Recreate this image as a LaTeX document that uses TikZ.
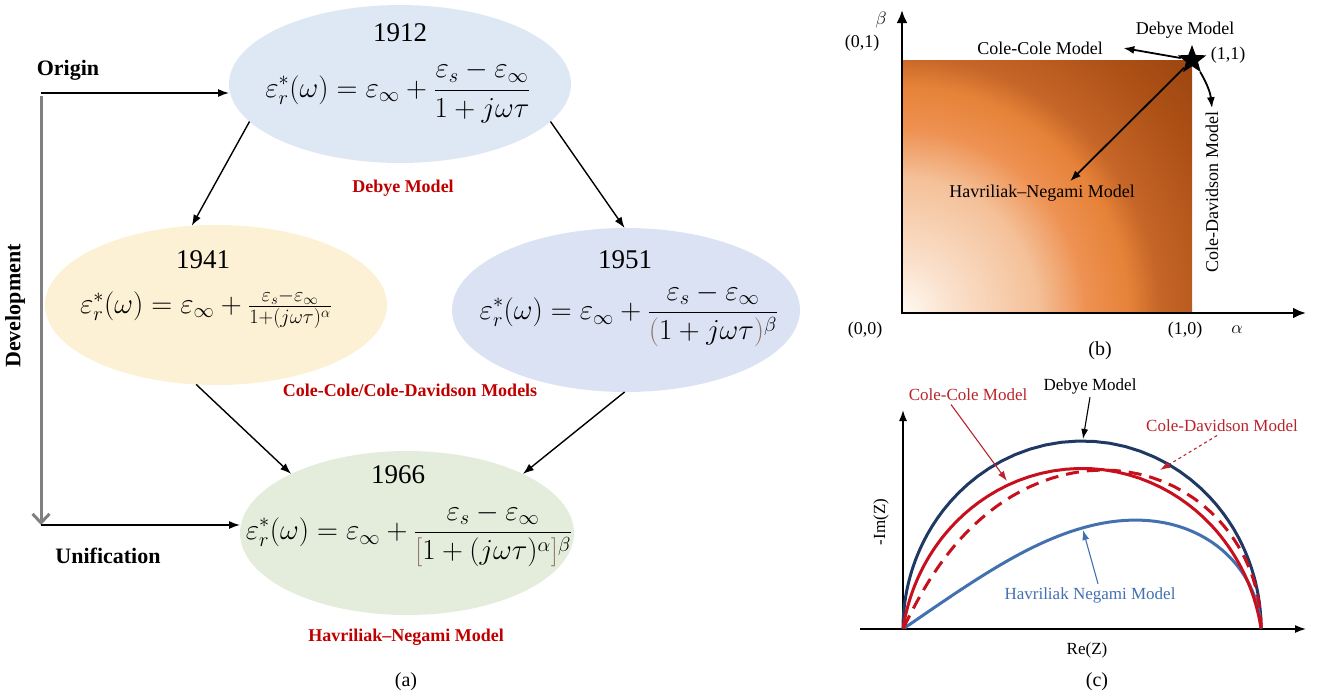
\documentclass[tikz,border=0pt]{standalone}
\usepackage{fix-cm}
\usepackage{amsmath}
\usepackage{fontspec}
\setmainfont{Liberation Serif}
\usepackage{xcolor}
\usetikzlibrary{arrows.meta,shapes.geometric,positioning}

\definecolor{debyefill}{RGB}{222,232,245}
\definecolor{colefill}{RGB}{252,241,212}
\definecolor{davfill}{RGB}{219,226,243}
\definecolor{hnfill}{RGB}{228,237,220}
\definecolor{modelred}{RGB}{192,0,0}
\definecolor{parbrown}{RGB}{140,115,100}
\definecolor{navyline}{RGB}{31,56,100}
\definecolor{hnblue}{RGB}{66,112,176}
\definecolor{curvered}{RGB}{200,16,28}
\definecolor{labelred}{RGB}{185,36,44}
\definecolor{sh0}{RGB}{255,249,242}
\definecolor{sh1}{RGB}{250,226,206}
\definecolor{sh2}{RGB}{244,192,152}
\definecolor{sh3}{RGB}{238,145,82}
\definecolor{sh4}{RGB}{230,130,56}
\definecolor{sh5}{RGB}{198,102,40}
\definecolor{sh6}{RGB}{172,80,22}
\definecolor{sh7}{RGB}{152,66,14}

\pgfdeclareradialshading{ochre}{\pgfpoint{0bp}{0bp}}{%
  color(0bp)=(sh0); color(3bp)=(sh1); color(8.5bp)=(sh2); color(11.5bp)=(sh3);
  color(14.2bp)=(sh4); color(16bp)=(sh5); color(20.5bp)=(sh6); color(25bp)=(sh7); color(50bp)=(sh7)}

% impedance arc 1/(1+(j w t)^a)^b, #1 = a, #2 = b
\newcommand{\relaxcurve}[3]{%
  \draw[#3] plot[domain=-6:14, samples=220, variable=\t]
  ({358*exp(-#2*(#1*\t+ln(veclen(exp(-#1*\t)+cos(90*#1),sin(90*#1)))))*cos(#2*atan2(sin(90*#1),exp(-#1*\t)+cos(90*#1)))},
   {-376*exp(-#2*(#1*\t+ln(veclen(exp(-#1*\t)+cos(90*#1),sin(90*#1)))))*sin(#2*atan2(sin(90*#1),exp(-#1*\t)+cos(90*#1)))});}

\begin{document}
\begin{tikzpicture}[x=1pt, y=-1pt,
        >={Latex[length=11pt,width=8pt]},
        blob/.style={ellipse, inner sep=0pt, outer sep=0pt},
        year/.style={font=\fontsize{27}{32}\selectfont},
        formula/.style={font=\fontsize{29}{34}\selectfont, inner sep=0pt},
        model/.style={font=\fontsize{18}{22}\selectfont\bfseries, text=modelred},
        stage/.style={font=\fontsize{22}{26}\selectfont\bfseries},
        tag/.style={font=\fontsize{20}{24}\selectfont},
        plane/.style={font=\fontsize{18}{22}\selectfont},
        nyq/.style={font=\fontsize{17}{20}\selectfont},
        flow/.style={->, line width=1.4pt},
        devline/.style={-{Straight Barb[length=9pt,width=17pt]}, line width=3pt, draw=black!50},
        pointer/.style={->, line width=1.8pt},
        thin pointer/.style={->, line width=1.1pt, >={Latex[length=10pt,width=7pt]}},
        axis b/.style={<->, line width=2.8pt, >={Latex[length=13pt,width=11pt]}},
        axis c/.style={->, line width=1.5pt}]
        \useasboundingbox (0,0) rectangle (1317,697);

        % (a) ellipses
        \node [blob, fill=debyefill, minimum width=342pt, minimum height=158pt] (debye) at (400,84) {};
        \node [blob, fill=colefill, minimum width=342pt, minimum height=160pt] (cole) at (216,305) {};
        \node [blob, fill=davfill, minimum width=348pt, minimum height=164pt] (davidson) at (626,310) {};
        \node [blob, fill=hnfill, minimum width=334pt, minimum height=164pt] (havneg) at (407,533) {};

        \node [year] (y1912) at (400,33) {1912};
        \node [year] (y1941) at (203,260) {1941};
        \node [year] (y1951) at (625,260) {1951};
        \node [year] (y1966) at (398,475) {1966};

        \node [formula] (eqDebye) at (398,92) {$\displaystyle \varepsilon_r^*(\omega)=\varepsilon_\infty+\frac{\varepsilon_s-\varepsilon_\infty}{1+j\omega\tau}$};
        \node [formula] (eqCole) at (206,309) {$\varepsilon_r^*(\omega)=\varepsilon_\infty+\frac{\varepsilon_s-\varepsilon_\infty}{1+(j\omega\tau)^\alpha}$};
        \node [formula] (eqDavidson) at (629,315) {$\displaystyle \varepsilon_r^*(\omega)=\varepsilon_\infty+\frac{\varepsilon_s-\varepsilon_\infty}{{\color{parbrown}(}1+j\omega\tau{\color{parbrown})}^\beta}$};
        \node [formula] (eqHavneg) at (409,535) {$\displaystyle \varepsilon_r^*(\omega)=\varepsilon_\infty+\frac{\varepsilon_s-\varepsilon_\infty}{{\color{parbrown}[}1+(j\omega\tau)^\alpha{\color{parbrown}]}^\beta}$};

        \node [model] (lblDebye) at (403,188) {Debye Model};
        \node [model] (lblCole) at (410,390) {Cole-Cole/Cole-Davidson Models};
        \node [model] (lblHavneg) at (406,637) {Havriliak–Negami Model};

        \node [stage] (origin) at (68,70) {Origin};
        \node [stage, rotate=90] (develop) at (15,306) {Development};
        \node [stage] (unify) at (108,556) {Unification};
        \node [tag] (capA) at (406,682) {(a)};

        \coordinate (orgC) at (41,93);
        \coordinate (uniC) at (41,525);

        % (a) edges
        \draw[devline] ([yshift=-3pt]orgC) -- (uniC);
        \draw[flow] (orgC) -- (orgC -| debye.west);
        \draw[flow] (uniC) -- (uniC -| havneg.west);
        \draw[flow] (debye.194) -- (cole.107);
        \draw[flow] (debye.346) -- (davidson.91);
        \draw[flow] (cole.256) -- (havneg.153);
        \draw[flow] (davidson.269) -- (havneg.27);

        % (b) parameter plane
        \coordinate (bO) at (902,313);
        \coordinate (bY) at (902,10);
        \coordinate (bX) at (1306,313);
        \begin{scope}
          \clip (bO) rectangle (1192,60);
          \shade[shading=ochre] (bO) circle (400);
        \end{scope}
        \draw[axis b] (bY) -- (bO) -- (bX);
        \node [star, star points=5, star point ratio=2.4, fill=black, inner sep=0pt, minimum size=30pt] (dstar) at (1192,60) {};

        \node [plane] (betaL) at (881,20) {$\beta$};
        \node [plane] (p01) at (862,43) {(0,1)};
        \node [plane] (p00) at (865,330) {(0,0)};
        \node [plane] (p10) at (1185,330) {(1,0)};
        \node [plane] (alphaL) at (1237,330) {$\alpha$};
        \node [plane] (p11) at (1228,55) {(1,1)};
        \node [plane] (debyeB) at (1185,30) {Debye Model};
        \node [plane] (coleB) at (1040,48) {Cole-Cole Model};
        \node [plane] (hnB) at (1042,193) {Havriliak–Negami Model};
        \node [plane, rotate=90] (cdB) at (1212,192) {Cole-Davidson Model};
        \node [tag] (capB) at (1100,351) {(b)};

        \draw[pointer] (dstar) -- ([xshift=17pt]coleB.east);
        \draw[pointer] (dstar) to[bend left=12] (cdB.east);
        \draw[pointer] (dstar) -- ([xshift=28pt]hnB.north);

        % (c) Nyquist plot
        \coordinate (cO) at (903,629);
        \coordinate (cY) at (903,410);
        \coordinate (cL) at (860,629);
        \coordinate (cX) at (1306,629);
        \draw[axis c] (cL) -- (cX);
        \draw[axis c] (cO) -- (cY);

        \begin{scope}[shift={(cO)}, line width=3pt]
          \relaxcurve{1}{1}{navyline}
          \relaxcurve{0.97}{0.38}{hnblue}
          \relaxcurve{0.9}{1}{curvered}
          \relaxcurve{1}{0.7}{curvered, dash pattern=on 13pt off 8pt}
        \end{scope}

        \node [nyq] (debyeC) at (1090,386) {Debye Model};
        \node [nyq, text=labelred] (coleC) at (968,395) {Cole-Cole Model};
        \node [nyq, text=labelred] (cdC) at (1222,426) {Cole-Davidson Model};
        \node [nyq, text=hnblue] (hnC) at (1090,595) {Havriliak Negami Model};
        \node [nyq, rotate=90] (imL) at (881,522) {-Im(Z)};
        \node [nyq] (reL) at (1087,650) {Re(Z)};
        \node [tag] (capC) at (1097,682) {(c)};

        \coordinate (debyePeak) at (1083,439);
        \coordinate (ccTip) at (1007,481);
        \coordinate (cdTip) at (1160,470);
        \coordinate (hnTip) at (1083,530);
        \draw[thin pointer] (debyeC.south) -- (debyePeak);
        \draw[thin pointer, labelred] ([xshift=-17pt]coleC.south) -- (ccTip);
        \draw[thin pointer, labelred, dashed] ([xshift=-5pt]cdC.south) -- (cdTip);
        \draw[thin pointer, hnblue] ([xshift=8pt]hnC.north) -- (hnTip);
    \end{tikzpicture}
\end{document}
